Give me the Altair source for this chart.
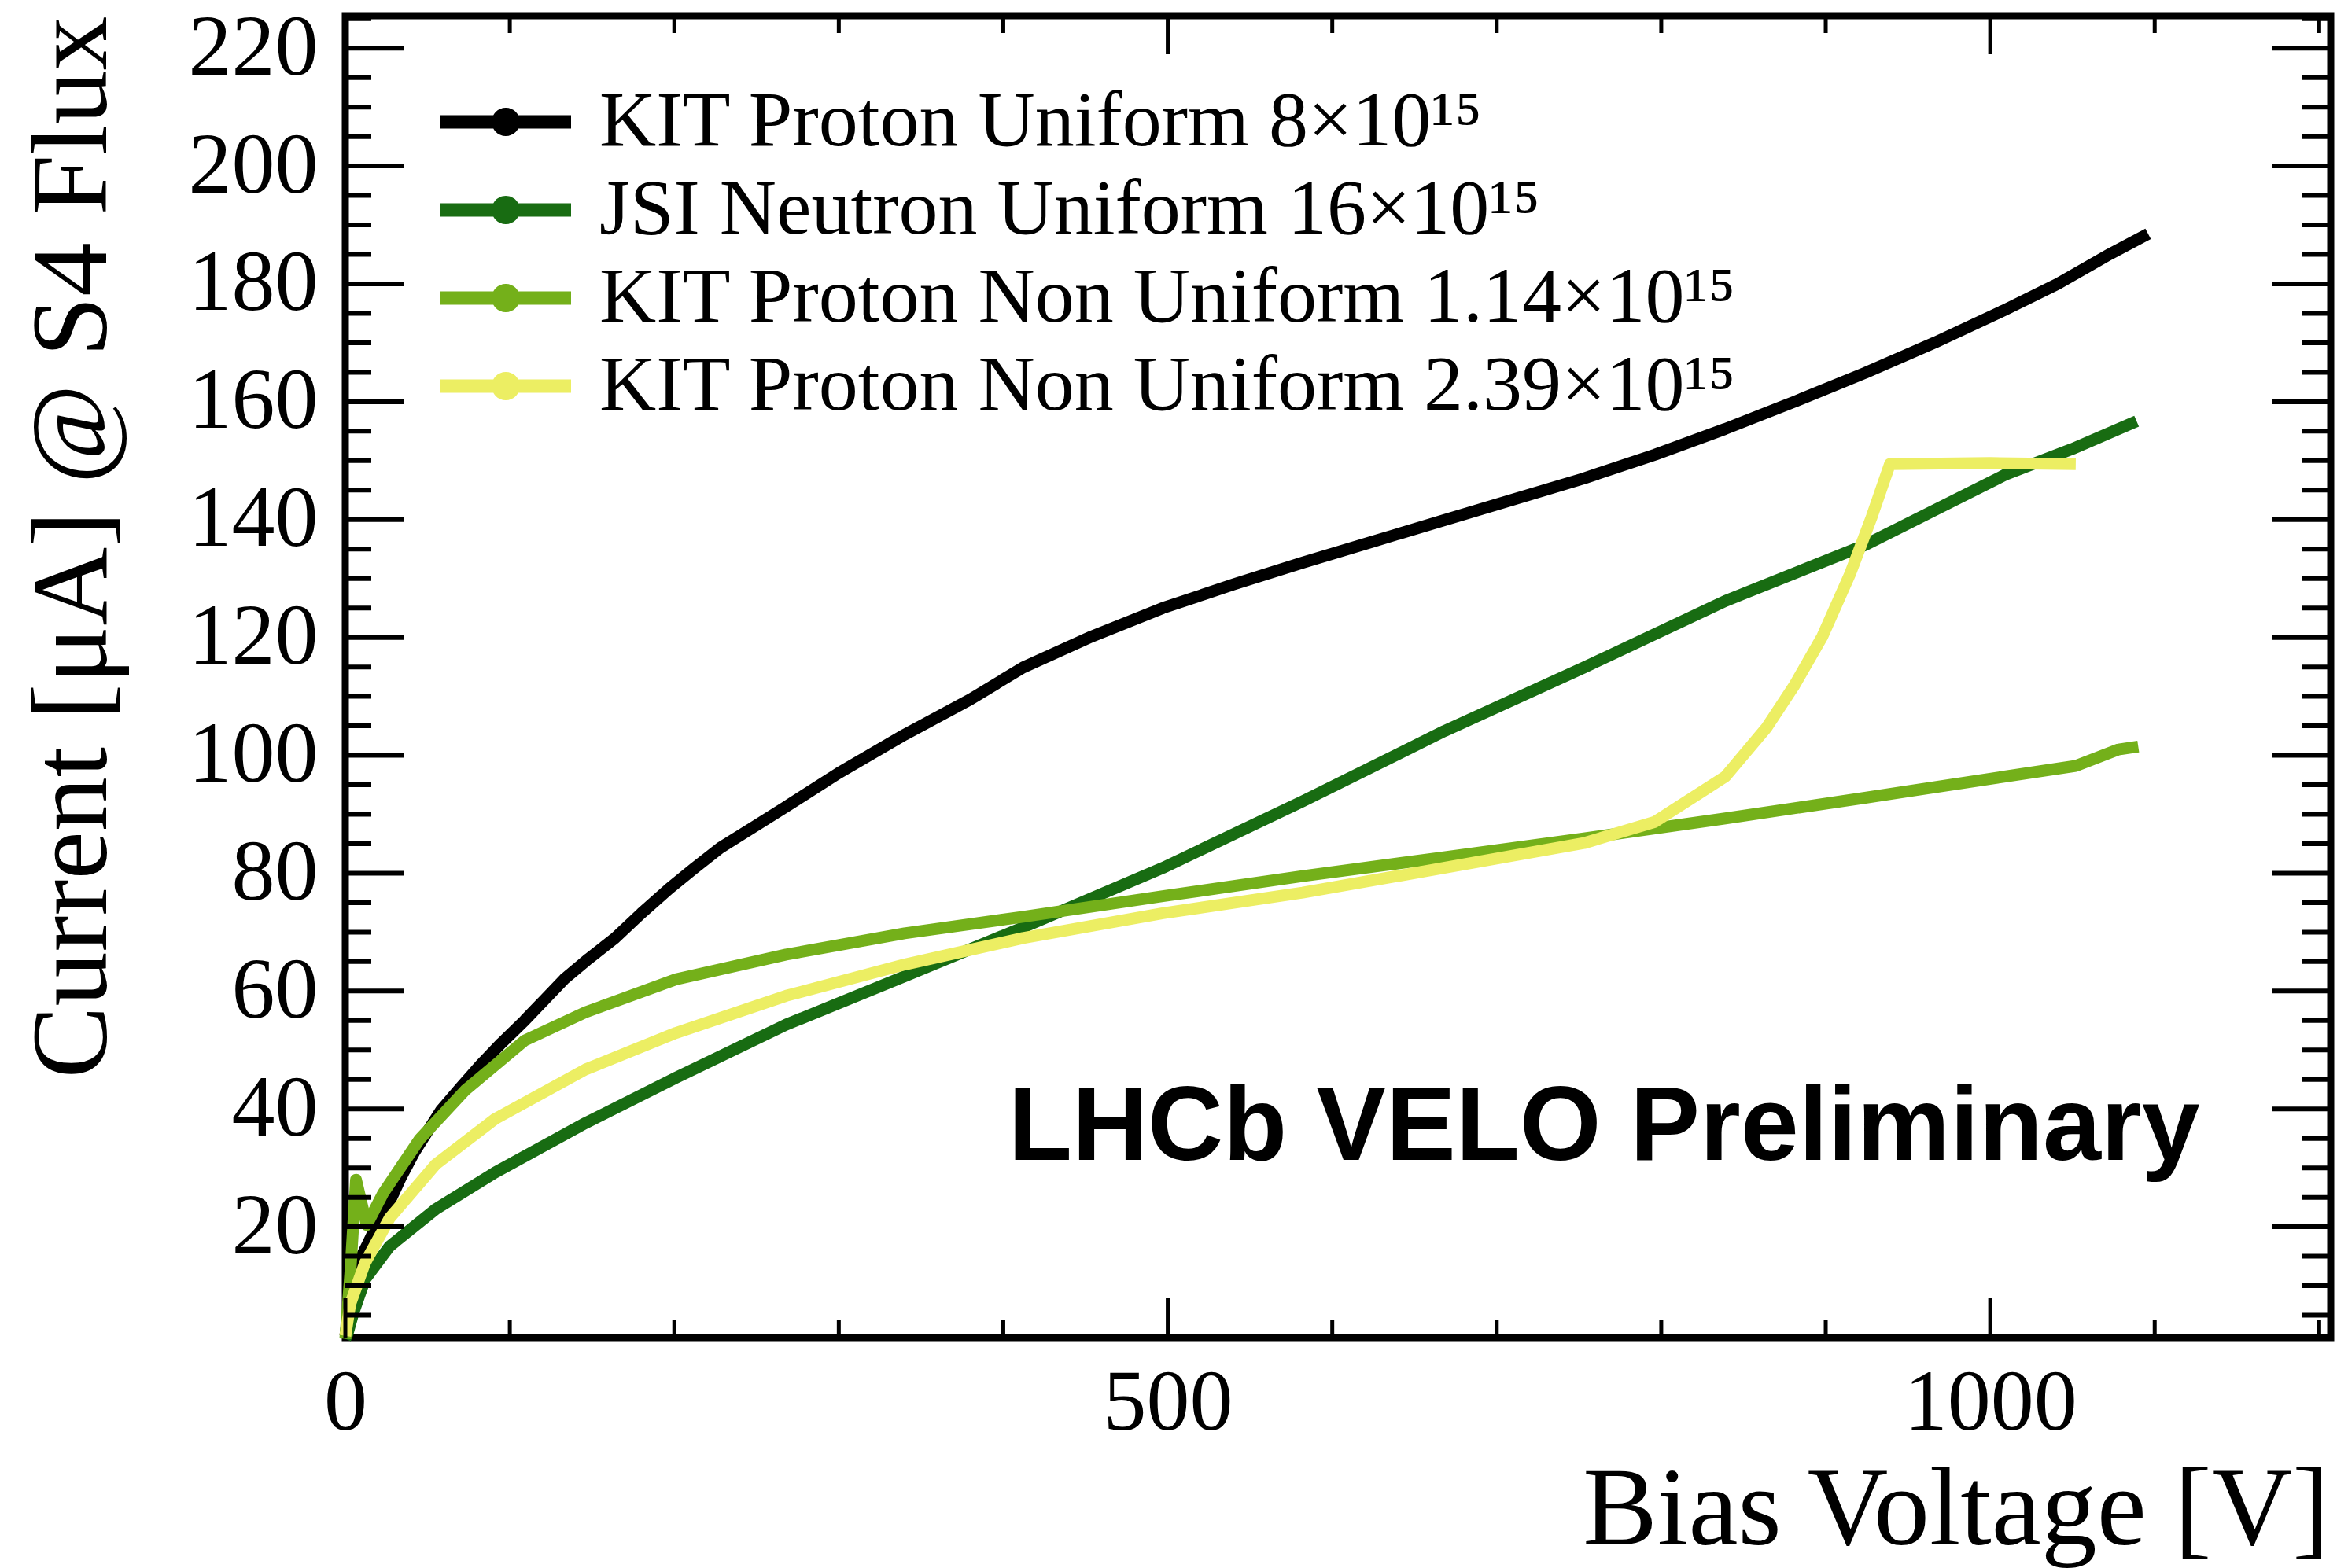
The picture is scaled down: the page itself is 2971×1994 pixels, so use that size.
import altair as alt
import pandas as pd

# Leakage current [uA] vs bias voltage [V] for each irradiated sensor
kit_uniform_v = [0, 2, 5, 9, 14, 20, 27, 34, 42, 50, 58, 70, 82, 95, 109, 121, 133, 148, 164, 180,
                 197, 212, 228, 248, 268, 300, 340, 380, 412, 454, 497, 540, 582, 625, 668, 710,
                 753, 796, 839, 881, 924, 966, 1009, 1041, 1073, 1096]
kit_uniform_i = [1.5, 5.5, 10.4, 14.5, 17.3, 20.8, 24.3, 28.5, 32.7, 36.2, 39.7, 43.6, 47.4, 51.2,
                 55.0, 58.5, 62.0, 65.5, 69.0, 73.2, 77.4, 80.8, 84.3, 87.8, 91.3, 97.0, 103.5,
                 109.5, 114.9, 120.2, 125.0, 129.0, 132.7, 136.3, 139.9, 143.4, 147.0, 151.0,
                 155.4, 160.0, 164.9, 170.0, 175.6, 180.0, 185.1, 188.5]

jsi_uniform_v = [0, 1.5, 5, 12, 27, 55, 91, 146, 201, 268, 340, 412, 497, 582, 668, 753, 839,
                 924, 1009, 1050, 1089]
jsi_uniform_i = [1.0, 2.0, 5.5, 11.1, 16.7, 23.0, 29.2, 37.6, 45.3, 54.3, 62.5, 70.8, 80.9,
                 92.2, 104.1, 114.9, 126.2, 135.7, 147.6, 152.0, 156.7]

kit_nonuni_114_v = [0, 3, 6.5, 13, 23, 45, 73, 109, 146, 201, 268, 340, 412, 497, 582, 668,
                    753, 839, 924, 1009, 1052, 1078, 1090]
kit_nonuni_114_i = [1.0, 12.0, 28.0, 20.3, 25.7, 34.8, 43.2, 51.6, 56.4, 62.0, 66.2, 69.8, 72.6,
                    76.1, 79.5, 82.7, 85.9, 89.3, 92.8, 96.4, 98.2, 101.0, 101.5]

kit_nonuni_239_v = [0, 3, 12, 27, 55, 91, 146, 201, 268, 340, 412, 497, 582, 668, 753, 796, 839,
                    864, 881, 898, 915, 928, 939, 1000, 1052]
kit_nonuni_239_i = [1.5, 6.9, 13.9, 21.5, 30.6, 38.3, 46.7, 52.9, 59.2, 64.5, 69.0, 73.2, 76.7,
                    80.9, 85.1, 88.7, 96.4, 104.7, 111.9, 120.2, 130.9, 140.5, 149.4, 149.6, 149.4]

series_names = [
    "KIT Proton Uniform 8×10¹⁵",
    "JSI Neutron Uniform 16×10¹⁵",
    "KIT Proton Non Uniform 1.14×10¹⁵",
    "KIT Proton Non Uniform 2.39×10¹⁵",
]
series_colors = ["#000000", "#186c12", "#74b01a", "#ecee63"]

# Axis tick positions (drawn inside the frame on all four sides)
x_major = [0, 500, 1000]
x_minor = [100, 200, 300, 400, 600, 700, 800, 900, 1100, 1200]
y_major = [20, 40, 60, 80, 100, 120, 140, 160, 180, 200, 220]
y_minor = [v for v in range(5, 226, 5) if v % 20 != 0]

label_text = "LHCb VELO Preliminary"
label_v, label_i = 403, 31.4

W, H = 2524, 1681

volts = [kit_uniform_v, jsi_uniform_v, kit_nonuni_114_v, kit_nonuni_239_v]
currents = [kit_uniform_i, jsi_uniform_i, kit_nonuni_114_i, kit_nonuni_239_i]
frames = [pd.DataFrame({"voltage": v, "current": c, "sample": n})
          for n, v, c in zip(series_names, volts, currents)]
iv = pd.concat(frames, ignore_index=True)

x_scale = alt.Scale(domain=[0, 1207], nice=False, zero=False)
y_scale = alt.Scale(domain=[1.2, 225.5], nice=False, zero=False)
color_scale = alt.Scale(domain=series_names, range=series_colors)

x_axis = alt.Axis(values=x_major, format="d", labelPadding=29, labelFlush=False,
                  labelLimit=600,
                  title="Bias Voltage [V]", titleFontSize=142,
                  titleX=2522, titleY=262, titleAlign="right",
                  titleBaseline="alphabetic", titleAnchor="end")
y_axis = alt.Axis(values=y_major, format="d", labelPadding=35, labelFlush=False,
                  labelLimit=600,
                  title="Current [μA] @ S4 Flux", titleFontSize=138,
                  titleAngle=270, titleX=-305, titleY=0, titleAlign="right",
                  titleBaseline="alphabetic", titleAnchor="end")


def xq(field):
    return alt.X(field, scale=x_scale, axis=x_axis)


def yq(field):
    return alt.Y(field, scale=y_scale, axis=y_axis)


# legend glyph: line segment with a filled marker in the middle
legend_symbol = ("M-1.66,-0.17H1.66V0.17H-1.66Z "
                 "M0.36,0A0.36,0.36 0 1,1 -0.36,0A0.36,0.36 0 1,1 0.36,0Z")

# invisible filled points: they only carry the legend with filled glyphs
first_points = iv.groupby("sample", sort=False).head(1)
legend_layer = alt.Chart(first_points).mark_point(filled=True, size=0, opacity=1).encode(
    x=xq("voltage:Q"),
    y=yq("current:Q"),
    color=alt.Color("sample:N", sort=series_names, scale=color_scale,
                    legend=alt.Legend(title=None, orient="none", legendX=154, legendY=85,
                                      symbolType=legend_symbol, symbolSize=10000,
                                      symbolStrokeWidth=0, symbolOpacity=1,
                                      labelFont="Liberation Serif",
                                      labelFontSize=100, labelOffset=69, rowPadding=12,
                                      padding=0, labelLimit=0, labelColor="black")),
)

lines = alt.Chart(iv).mark_line(strokeWidth=15, strokeJoin="round").encode(
    x=xq("voltage:Q"),
    y=yq("current:Q"),
    color=alt.Color("sample:N", sort=series_names, scale=color_scale),
)


def tick_layer(values, channel, pos, length, width):
    src = alt.Chart(pd.DataFrame({"v": values}))
    if channel == "x":
        enc = dict(x=xq("v:Q"), y=alt.value(pos), y2=alt.value(pos + length))
    else:
        enc = dict(y=yq("v:Q"), x=alt.value(pos), x2=alt.value(pos + length))
    return src.mark_rule(color="black", strokeWidth=width).encode(**enc)


ticks = [
    tick_layer(x_major, "x", H, -50, 5),
    tick_layer(x_minor, "x", H, -23, 5),
    tick_layer(x_major, "x", 0, 49, 5),
    tick_layer(x_minor, "x", 0, 22, 5),
    tick_layer(y_major, "y", 0, 75, 6),
    tick_layer(y_minor, "y", 0, 33, 6),
    tick_layer(y_major, "y", W, -75, 6),
    tick_layer(y_minor, "y", W, -36, 6),
]

note = alt.Chart(pd.DataFrame({"voltage": [label_v], "current": [label_i],
                               "text": [label_text]})).mark_text(
    align="left", baseline="alphabetic", font="Liberation Sans", fontWeight="bold",
    fontSize=133, color="black"
).encode(
    x=xq("voltage:Q"),
    y=yq("current:Q"),
    text="text:N",
)

chart = alt.layer(legend_layer, lines, *ticks, note).properties(
    width=W, height=H,
    autosize=alt.AutoSizeParams(type="none"),
    padding={"left": 439, "top": 20, "right": 8, "bottom": 293},
    background="white",
).configure_view(
    stroke="black", strokeWidth=9
).configure_axis(
    grid=False, domain=False, ticks=False, tickSize=0,
    labelFont="Liberation Serif", labelFontSize=110, labelColor="black",
    titleFont="Liberation Serif", titleFontWeight="normal", titleColor="black",
)

chart.save("out.html", embed_options={"renderer": "svg", "actions": False})
